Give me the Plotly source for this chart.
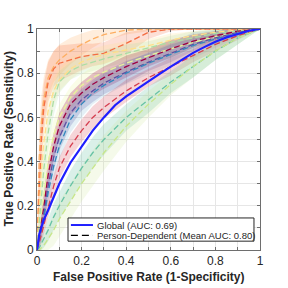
import plotly.graph_objects as go

# ---------------- data ----------------
X = [0, 0.01, 0.02, 0.03, 0.05, 0.075, 0.1, 0.15, 0.2, 0.25, 0.3, 0.4, 0.5, 0.6, 0.7, 0.8, 0.9, 1.0]

PERSON_COLORS = ["#FDAE61", "#F46D43", "#FEE08B", "#ABDDA4", "#E6F598",
                 "#9E0142", "#5E4FA2", "#3288BD", "#D53E4F", "#66C2A5", "#C8E68A"]
BAND_ALPHA = [0.22, 0.22, 0.22, 0.22, 0.22, 0.24, 0.22, 0.13, 0.22, 0.24, 0.18]

# mean TPR per person
P_A = [0, 0.42, 0.58, 0.68, 0.78, 0.83, 0.86, 0.90, 0.93, 0.955, 0.975, 0.995, 1, 1, 1, 1, 1, 1]
P_B = [0, 0.30, 0.50, 0.64, 0.76, 0.82, 0.845, 0.86, 0.875, 0.883, 0.89, 0.935, 0.985, 1, 1, 1, 1, 1]
P_C = [0, 0.20, 0.36, 0.48, 0.63, 0.72, 0.77, 0.82, 0.85, 0.87, 0.885, 0.905, 0.925, 0.95, 0.97, 0.985, 0.995, 1]
P_D = [0, 0.12, 0.25, 0.36, 0.53, 0.68, 0.76, 0.81, 0.835, 0.85, 0.865, 0.89, 0.915, 0.94, 0.96, 0.98, 0.99, 1]
P_E = [0, 0.08, 0.17, 0.26, 0.40, 0.52, 0.60, 0.69, 0.745, 0.78, 0.805, 0.845, 0.88, 0.91, 0.94, 0.965, 0.985, 1]
P_F = [0, 0.06, 0.12, 0.19, 0.34, 0.47, 0.56, 0.66, 0.71, 0.75, 0.78, 0.83, 0.87, 0.91, 0.945, 0.97, 0.99, 1]
P_G = [0, 0.05, 0.10, 0.16, 0.29, 0.42, 0.51, 0.62, 0.68, 0.72, 0.755, 0.805, 0.85, 0.89, 0.93, 0.96, 0.985, 1]
P_H = [0, 0.04, 0.09, 0.14, 0.26, 0.38, 0.47, 0.59, 0.66, 0.71, 0.745, 0.80, 0.845, 0.885, 0.925, 0.955, 0.98, 1]
P_I = [0, 0.03, 0.07, 0.11, 0.19, 0.29, 0.37, 0.47, 0.54, 0.60, 0.645, 0.72, 0.78, 0.83, 0.88, 0.93, 0.97, 1]
P_J = [0, 0.01, 0.03, 0.05, 0.09, 0.15, 0.20, 0.29, 0.37, 0.44, 0.50, 0.60, 0.68, 0.76, 0.83, 0.90, 0.96, 1]
P_K = [0, 0.00, 0.01, 0.02, 0.05, 0.09, 0.14, 0.22, 0.30, 0.37, 0.44, 0.56, 0.66, 0.75, 0.83, 0.90, 0.96, 1]

# standard deviation (band half width) per person
S_A = [0, 0.15, 0.12, 0.10, 0.08, 0.07, 0.07, 0.06, 0.05, 0.04, 0.03, 0.02, 0.01, 0, 0, 0, 0, 0]
S_B = [0, 0.14, 0.13, 0.11, 0.09, 0.08, 0.08, 0.07, 0.06, 0.05, 0.05, 0.05, 0.03, 0.01, 0, 0, 0, 0]
S_C = [0, 0.10, 0.10, 0.09, 0.08, 0.06, 0.05, 0.05, 0.04, 0.04, 0.04, 0.04, 0.03, 0.03, 0.02, 0.02, 0.01, 0]
S_D = [0, 0.08, 0.09, 0.09, 0.08, 0.07, 0.05, 0.04, 0.04, 0.04, 0.04, 0.04, 0.03, 0.03, 0.03, 0.02, 0.01, 0]
S_E = [0, 0.05, 0.07, 0.08, 0.08, 0.07, 0.06, 0.05, 0.05, 0.05, 0.05, 0.04, 0.04, 0.04, 0.03, 0.03, 0.02, 0]
S_F = [0, 0.04, 0.06, 0.07, 0.07, 0.06, 0.06, 0.05, 0.05, 0.05, 0.05, 0.05, 0.04, 0.04, 0.03, 0.02, 0.01, 0]
S_G = [0, 0.04, 0.05, 0.06, 0.06, 0.06, 0.06, 0.06, 0.05, 0.05, 0.05, 0.05, 0.04, 0.04, 0.03, 0.03, 0.02, 0]
S_H = [0, 0.03, 0.05, 0.06, 0.07, 0.07, 0.06, 0.06, 0.06, 0.05, 0.05, 0.05, 0.05, 0.05, 0.06, 0.04, 0.02, 0]
S_I = [0, 0.03, 0.04, 0.05, 0.05, 0.05, 0.05, 0.05, 0.05, 0.05, 0.05, 0.05, 0.04, 0.04, 0.03, 0.03, 0.02, 0]
S_J = [0, 0.02, 0.03, 0.04, 0.05, 0.06, 0.06, 0.07, 0.07, 0.07, 0.07, 0.06, 0.06, 0.05, 0.05, 0.04, 0.03, 0]
S_K = [0, 0.01, 0.03, 0.04, 0.06, 0.07, 0.08, 0.08, 0.08, 0.08, 0.08, 0.07, 0.06, 0.05, 0.05, 0.04, 0.03, 0]

PERSON_MEANS = [P_A, P_B, P_C, P_D, P_E, P_F, P_G, P_H, P_I, P_J, P_K]
PERSON_SDS = [S_A, S_B, S_C, S_D, S_E, S_F, S_G, S_H, S_I, S_J, S_K]

X_GLOBAL = [0, 0.005, 0.01, 0.02, 0.03, 0.05, 0.075, 0.1, 0.15, 0.2, 0.25, 0.3, 0.35, 0.4,
            0.45, 0.5, 0.55, 0.6, 0.65, 0.7, 0.75, 0.8, 0.85, 0.9, 0.95, 1.0]
Y_GLOBAL = [0, 0.04, 0.07, 0.105, 0.135, 0.18, 0.24, 0.30, 0.395, 0.47, 0.54, 0.60, 0.655, 0.695,
            0.73, 0.765, 0.797, 0.83, 0.862, 0.892, 0.918, 0.942, 0.962, 0.978, 0.992, 1.0]

LEGEND_GLOBAL = "Global (AUC: 0.69)"
LEGEND_PERSON = "Person-Dependent (Mean AUC: 0.80)"
X_TITLE = "False Positive Rate (1-Specificity)"
Y_TITLE = "True Positive Rate (Sensitivity)"
TICKS = [0, 0.1, 0.2, 0.3, 0.4, 0.5, 0.6, 0.7, 0.8, 0.9, 1.0]
TICK_TEXT = ["0", "", "0.2", "", "0.4", "", "0.6", "", "0.8", "", "1"]

FONT = "Liberation Sans, Arial, sans-serif"


def rgba(hexc, a):
    h = hexc.lstrip("#")
    return "rgba(%d,%d,%d,%.2f)" % (int(h[0:2], 16), int(h[2:4], 16), int(h[4:6], 16), a)


fig = go.Figure()

# bands
for col, al, m, s in zip(PERSON_COLORS, BAND_ALPHA, PERSON_MEANS, PERSON_SDS):
    up = [min(1.0, a + b) for a, b in zip(m, s)]
    lo = [max(0.0, a - b) for a, b in zip(m, s)]
    fig.add_trace(go.Scatter(x=X + X[::-1], y=up + lo[::-1], fill="toself",
                             fillcolor=rgba(col, al), line=dict(width=0),
                             mode="lines", hoverinfo="skip", showlegend=False))
# dashed mean lines
for col, m in zip(PERSON_COLORS, PERSON_MEANS):
    fig.add_trace(go.Scatter(x=X, y=m, mode="lines",
                             line=dict(color=col, width=1.3, dash="6px,3px"),
                             showlegend=False))
# global
fig.add_trace(go.Scatter(x=X_GLOBAL, y=Y_GLOBAL, mode="lines",
                         line=dict(color="#1f1fff", width=2.2), showlegend=False))

axis_common = dict(range=[0, 1], tickvals=TICKS, ticktext=TICK_TEXT,
                   showgrid=True, gridcolor="#e6e6e6", gridwidth=1,
                   showline=True, linecolor="#6e6e6e", linewidth=1, mirror="ticks",
                   ticks="inside", ticklen=3, tickcolor="#6e6e6e", zeroline=False,
                   tickfont=dict(family=FONT, size=12, color="#262626"),
                   automargin=False, fixedrange=True)

fig.update_layout(
    width=288, height=288, autosize=False,
    margin=dict(l=37, r=28, t=29, b=38),
    paper_bgcolor="white", plot_bgcolor="white",
    showlegend=False,
    xaxis=dict(axis_common),
    yaxis=dict(axis_common),
)

# axis titles
fig.add_annotation(x=0.5, y=-0.122, xref="paper", yref="paper", text="<b>%s</b>" % X_TITLE,
                   showarrow=False, xanchor="center", yanchor="middle",
                   font=dict(family=FONT, size=12, color="#262626"))
fig.add_annotation(x=-0.130, y=0.5, xref="paper", yref="paper", text="<b>%s</b>" % Y_TITLE,
                   showarrow=False, xanchor="center", yanchor="middle", textangle=-90,
                   font=dict(family=FONT, size=12, color="#262626"))

# manual legend
fig.add_shape(type="rect", xref="x", yref="y", x0=0.139, x1=0.973, y0=0.040, y1=0.145,
              line=dict(color="#262626", width=1), fillcolor="white")
fig.add_shape(type="line", xref="x", yref="y", x0=0.152, x1=0.251, y0=0.113, y1=0.113,
              line=dict(color="#1f1fff", width=2))
fig.add_shape(type="line", xref="x", yref="y", x0=0.152, x1=0.251, y0=0.066, y1=0.066,
              line=dict(color="#000000", width=1.2, dash="7px,4px"))
for ytxt, txt in [(0.113, LEGEND_GLOBAL), (0.066, LEGEND_PERSON)]:
    fig.add_annotation(x=0.258, y=ytxt, xref="x", yref="y", text=txt, showarrow=False,
                       xanchor="left", yanchor="middle",
                       font=dict(family=FONT, size=9.5, color="#262626"))

fig.write_html("out.html", config={"displayModeBar": False, "staticPlot": True},
               post_script="document.body.style.margin='0px';document.body.style.padding='0px';")
